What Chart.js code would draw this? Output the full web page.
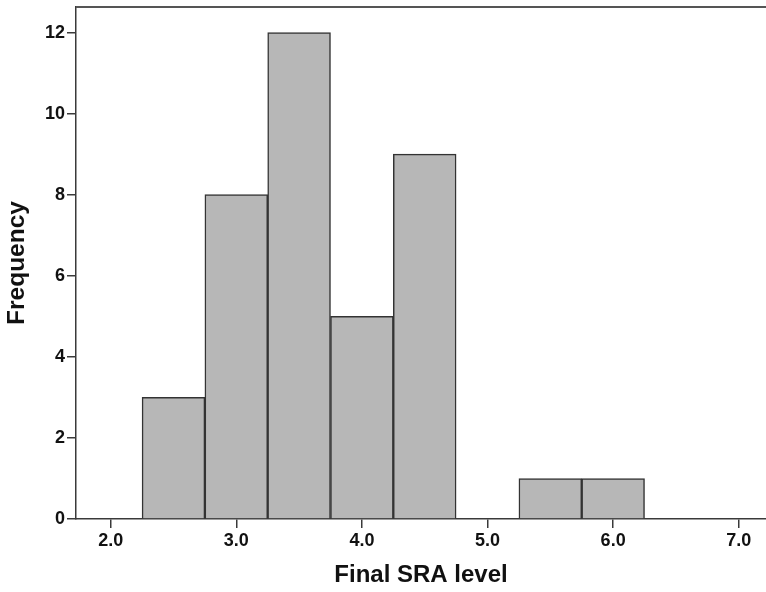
<!DOCTYPE html>
<html>
<head>
<meta charset="utf-8">
<script src="https://cdn.jsdelivr.net/npm/chart.js@4/dist/chart.umd.min.js"></script>
<style>
  html, body { margin: 0; padding: 0; background: #fff; }
  #wrap { width: 766px; height: 592px; }
</style>
</head>
<body>
<div id="wrap"><canvas id="c" width="766" height="592"></canvas></div>
<script>
const binCenters = [2.5, 3.0, 3.5, 4.0, 4.5, 5.5, 6.0];
const frequencies = [3, 8, 12, 5, 9, 1, 1];
const xTickValues = [2.0, 3.0, 4.0, 5.0, 6.0, 7.0];
const yTickValues = [0, 2, 4, 6, 8, 10, 12];
const xTitle = 'Final SRA level';
const yTitle = 'Frequency';

const FONT = "'Liberation Sans', Arial, Helvetica, sans-serif";
const AXIS = '#3a3a3a';

const topFrame = {
  id: 'topFrame',
  afterDraw(chart) {
    const { ctx, chartArea } = chart;
    ctx.save();
    ctx.strokeStyle = '#555';
    ctx.lineWidth = 2;
    ctx.beginPath();
    ctx.moveTo(chartArea.left, chartArea.top);
    ctx.lineTo(chartArea.right, chartArea.top);
    ctx.stroke();
    ctx.restore();
  }
};

new Chart(document.getElementById('c'), {
  type: 'bar',
  data: {
    datasets: [{
      data: binCenters.map((x, i) => ({ x: x, y: frequencies[i] })),
      backgroundColor: '#b7b7b7',
      borderColor: '#333333',
      borderWidth: 1.5,
      barPercentage: 1.0,
      categoryPercentage: 1.0
    }]
  },
  options: {
    responsive: false,
    animation: false,
    layout: { padding: { top: 7, right: 0, left: 0, bottom: 0 } },
    plugins: { legend: { display: false }, tooltip: { enabled: false } },
    scales: {
      x: {
        type: 'linear',
        offset: false,
        min: 1.724,
        max: 7.217,
        afterBuildTicks: s => { s.ticks = xTickValues.map(v => ({ value: v })); },
        afterFit: s => { s.height = 73; s.paddingLeft = 0; s.paddingRight = 0; },
        ticks: {
          callback: v => Number(v).toFixed(1),
          font: { family: FONT, size: 18, weight: 'bold' },
          color: '#111',
          padding: 2,
          maxRotation: 0
        },
        grid: { display: true, offset: false, drawOnChartArea: false, drawTicks: true, tickLength: 9, color: AXIS, lineWidth: 1.5 },
        border: { display: true, color: AXIS, width: 1.5 },
        title: {
          display: true,
          text: xTitle,
          font: { family: FONT, size: 24, weight: 'bold' },
          color: '#111',
          padding: { top: 0, bottom: 2 }
        }
      },
      y: {
        type: 'linear',
        min: 0,
        max: 12.63,
        afterBuildTicks: s => { s.ticks = yTickValues.map(v => ({ value: v })); },
        afterFit: s => { s.width = 76; s.paddingTop = 0; s.paddingBottom = 0; },
        ticks: {
          font: { family: FONT, size: 18, weight: 'bold' },
          color: '#111',
          padding: 2
        },
        grid: { display: true, drawOnChartArea: false, drawTicks: true, tickLength: 9, color: AXIS, lineWidth: 1.5 },
        border: { display: true, color: AXIS, width: 1.5 },
        title: {
          display: true,
          text: yTitle,
          font: { family: FONT, size: 24.5, weight: 'bold' },
          color: '#111',
          padding: { top: 3, bottom: 0 }
        }
      }
    }
  },
  plugins: [topFrame]
});
</script>
</body>
</html>
